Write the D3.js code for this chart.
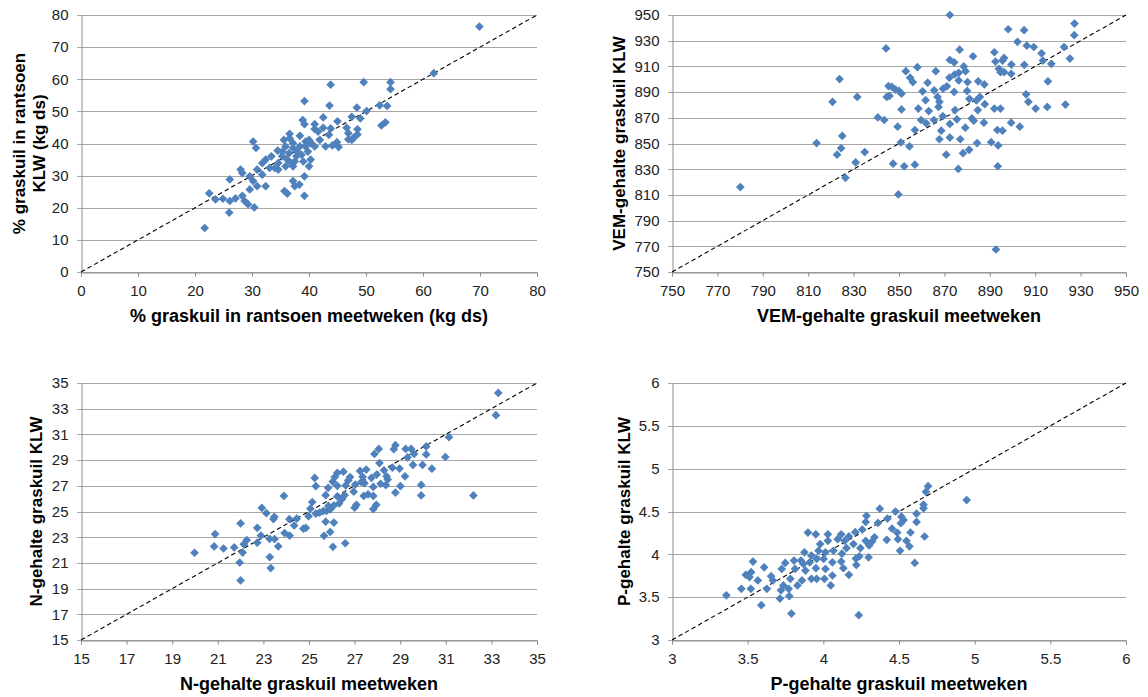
<!DOCTYPE html>
<html>
<head>
<meta charset="utf-8">
<script src="https://cdn.jsdelivr.net/npm/d3@7"></script>
<style>
  body { margin: 0; background: #fff; }
  text { font-family: "Liberation Sans", Arial, sans-serif; }
</style>
</head>
<body>
<svg id="chart" width="1148" height="697"></svg>
<script>
// % graskuil in rantsoen (meetweken vs KLW)
const pctMeet = [69.9,61.9,49.6,54.3,54.3,43.8,39.2,43.6,48.4,52.4,53.7,50.1,49.0,42.5,45.0,47.5,52.7,53.4,38.9,39.2,41.0,41.0,42.5,43.8,46.6,46.9,46.9,48.5,48.5,47.9,47.5,41.6,43.5,38.4,36.6,44.9,42.9,44.1,45.2,41.0,40.0,35.6,30.2,30.7,34.5,35.9,37.2,38.4,39.4,39.8,38.7,37.8,36.5,35.3,36.2,37.5,39.0,40.3,40.0,37.2,35.9,34.6,34.0,32.4,31.8,33.1,30.9,31.8,29.6,30.2,30.9,32.4,29.6,28.0,28.3,26.1,22.5,23.6,24.9,26.1,27.1,28.3,28.7,29.3,30.4,26.0,21.7,39.2,37.2,37.5,38.3,35.7,36.2,39.2,41.9,36.9,37.9,39.4,40.3,35.3,33.4,36.6,37.2,34.6];
const pctKlw  = [76.4,61.9,59.1,59.1,56.9,58.3,53.2,51.8,51.2,51.9,51.7,50.1,47.8,48.1,46.9,48.3,45.6,46.6,47.3,46.0,46.0,44.5,44.9,44.7,44.9,43.2,41.3,44.4,42.8,41.9,41.1,43.7,42.7,42.4,43.0,40.4,39.1,39.4,38.9,39.1,41.1,41.1,40.6,38.6,37.8,39.1,38.6,39.1,39.1,37.5,36.5,36.0,37.0,36.0,35.0,34.4,34.4,35.0,32.9,32.9,32.9,33.9,32.4,35.0,33.9,32.4,31.9,30.3,29.8,28.3,26.7,26.7,25.7,31.9,30.8,28.8,24.5,22.6,22.8,22.1,22.9,23.7,22.1,21.1,20.1,18.5,13.7,29.8,28.3,26.7,27.2,25.2,24.4,23.7,41.1,33.9,37.5,40.6,40.1,37.5,36.0,41.6,40.1,31.9];

// VEM-gehalte graskuil
const vemMeet = [872.4,898.1,905.1,927.3,927.2,902.2,906.3,909.4,922.7,844.3,876.7,892.0,912.8,882.6,896.3,925.3,872.4,874.3,892.5,895.6,913.4,917.1,899.5,905.2,878.5,858.1,853.0,866.2,879.3,894.0,894.7,896.3,899.4,876.3,874.5,872.2,854.9,856.1,862.6,876.3,880.2,884.9,887.6,915.6,823.8,871.1,869.4,845.4,846.9,848.5,850.0,851.1,860.4,865.5,874.3,880.0,906.0,820.7,831.6,844.6,845.8,861.7,867.0,867.8,881.0,884.1,885.6,907.0,915.3,923.3,910.2,892.0,894.7,851.1,858.5,863.1,867.4,874.7,884.7,887.8,840.7,843.5,859.7,865.4,869.3,875.5,882.1,882.9,849.4,862.0,872.4,887.4,899.4,903.2,879.2,857.0,868.6,893.3,895.6,825.0,813.7,867.8,872.4,877.0,884.4,890.6,893.7,850.8,854.6,824.5,834.9,822.7,870.8,878.2,880.9,830.9,847.4,852.3,857.0,876.1,893.5,826.4,849.7,780.1,892.7];
const vemKlw  = [950.0,938.9,938.2,943.3,934.3,929.1,926.1,925.1,925.1,924.0,923.0,921.0,920.2,917.9,916.6,916.1,915.0,913.2,913.8,914.5,914.5,912.0,911.4,911.2,910.0,909.4,906.3,906.3,906.3,908.1,905.5,905.5,904.2,905.0,903.7,901.2,901.2,897.8,897.3,899.1,897.8,898.4,896.0,898.4,900.1,894.5,892.7,894.7,894.0,891.9,890.9,888.8,890.6,891.4,890.1,890.9,888.3,882.4,886.2,886.2,887.0,883.7,886.2,882.4,884.8,883.5,886.2,882.4,878.5,880.3,877.2,877.2,877.2,876.5,877.2,875.2,878.5,876.0,876.0,880.6,870.3,868.3,868.3,868.3,871.3,868.8,869.5,867.7,863.1,865.7,865.2,866.2,866.2,863.1,862.3,860.5,860.0,860.5,860.0,855.9,850.3,853.3,854.6,853.3,850.3,851.0,848.5,850.8,847.7,846.4,843.3,841.3,841.3,842.5,845.1,835.3,834.3,832.3,833.5,830.2,832.3,823.3,810.4,816.1,767.5];

// N-gehalte graskuil
const nMeet = [33.30,33.20,31.14,30.98,32.21,30.39,30.14,30.14,29.98,29.92,29.92,29.48,29.61,29.56,29.24,29.32,29.21,29.01,28.97,28.79,28.79,28.72,28.66,28.06,27.87,28.09,28.29,28.40,28.45,28.14,28.37,27.97,27.74,27.82,27.82,27.95,27.82,27.59,27.51,27.35,27.24,27.30,27.43,27.40,27.03,26.96,27.08,27.00,26.80,26.72,26.61,26.56,26.45,26.51,26.24,26.13,26.04,26.24,26.24,26.32,26.09,25.93,25.77,25.62,25.46,25.30,25.14,25.06,24.98,25.25,25.30,25.84,25.73,25.85,25.73,25.66,25.93,26.09,26.05,26.59,24.75,24.86,24.46,24.35,24.14,23.90,23.93,24.15,23.48,23.44,22.93,23.13,22.73,22.89,22.73,23.27,23.49,23.65,23.28,23.32,22.27,22.14,22.09,21.96,22.00,22.00,21.72,21.25,20.88,20.84,19.98];
const nKlw  = [34.23,32.50,30.78,29.24,26.25,28.33,30.06,29.44,28.62,27.07,26.25,29.87,29.48,28.62,29.87,29.21,27.74,26.97,28.34,26.47,30.16,29.85,28.41,29.87,29.48,28.77,28.21,27.74,27.49,27.16,27.06,27.87,27.62,26.91,26.21,25.52,25.19,26.34,28.26,27.70,28.16,27.30,27.20,26.21,27.10,26.54,25.52,25.30,27.68,27.42,27.03,26.27,25.98,28.10,28.00,27.68,27.33,27.00,26.17,25.63,25.47,25.16,25.05,25.03,24.91,24.84,25.73,25.22,24.64,27.61,26.97,26.84,26.27,25.43,24.21,23.11,23.41,24.14,22.25,22.53,23.66,23.72,24.44,23.91,24.40,26.21,23.32,23.13,24.59,24.41,25.28,24.87,23.73,23.13,22.57,22.87,22.86,22.29,21.45,20.60,22.78,22.46,21.80,21.03,19.64,24.07,22.20,22.12,23.24,22.28,21.79];

// P-gehalte graskuil
const pMeet = [4.692,4.678,4.662,4.662,4.947,4.616,4.616,4.576,4.669,4.604,4.569,4.549,4.516,4.530,4.512,4.507,4.493,4.477,4.488,4.454,4.419,4.424,4.373,4.361,4.338,4.322,4.303,4.280,4.285,4.280,4.299,4.257,4.245,4.238,4.234,4.211,4.215,4.218,4.199,4.169,4.169,4.141,4.153,4.118,4.123,4.118,4.132,4.095,4.067,4.060,4.060,4.049,4.030,4.030,4.014,4.002,4.014,4.007,3.979,3.968,3.956,3.951,3.956,3.950,3.898,3.921,3.910,3.921,3.875,3.868,3.882,3.859,3.852,3.829,3.806,3.813,3.789,3.782,3.771,3.775,3.748,3.725,3.736,3.713,3.720,3.667,3.655,3.627,3.609,3.590,3.567,3.535,3.523,3.512,3.521,3.488,3.458,3.359];
const pKlw  = [4.795,4.730,4.579,4.537,4.634,4.475,4.378,4.255,4.208,3.900,4.093,4.158,4.440,4.400,4.363,4.042,4.177,4.500,4.254,4.300,4.170,4.417,4.533,4.367,4.199,4.150,4.103,4.158,4.450,4.378,3.965,4.290,4.073,3.977,3.290,4.258,3.951,3.876,4.120,4.209,3.761,4.158,4.073,4.234,4.008,3.916,3.839,4.177,4.042,3.907,3.753,3.637,4.158,4.234,4.023,3.946,3.830,3.714,4.120,4.042,3.946,3.838,3.714,4.234,4.254,3.985,3.907,3.714,4.023,3.888,3.811,3.695,3.927,3.637,3.927,3.830,3.309,3.714,3.598,3.513,3.900,3.830,3.637,3.483,3.580,3.695,3.745,3.598,3.849,3.406,3.695,3.916,3.792,3.734,3.598,3.761,3.598,3.521];

// as-bereiken en ticks
const pctTicks = [0,10,20,30,40,50,60,70,80];
const vemTicks = [750,770,790,810,830,850,870,890,910,930,950];
const nTicks = [15,17,19,21,23,25,27,29,31,33,35];
const pTicks = [3,3.5,4,4.5,5,5.5,6];

const svg = d3.select("#chart");

const panels = [
  { xs: pctMeet, ys: pctKlw, ticks: pctTicks, left: 81, right: 537, top: 15, bottom: 272,
    xTitle: "% graskuil in rantsoen meetweken (kg ds)",
    yTitle: ["% graskuil in rantsoen", "KLW (kg ds)"], yTitleX: [19, 39] },
  { xs: vemMeet, ys: vemKlw, ticks: vemTicks, left: 672, right: 1126, top: 15, bottom: 272,
    xTitle: "VEM-gehalte graskuil meetweken",
    yTitle: ["VEM-gehalte graskuil KLW"], yTitleX: [619] },
  { xs: nMeet, ys: nKlw, ticks: nTicks, left: 81, right: 537, top: 383, bottom: 640,
    xTitle: "N-gehalte graskuil meetweken",
    yTitle: ["N-gehalte graskuil KLW"], yTitleX: [36] },
  { xs: pMeet, ys: pKlw, ticks: pTicks, left: 672, right: 1126, top: 383, bottom: 640,
    xTitle: "P-gehalte graskuil meetweken",
    yTitle: ["P-gehalte graskuil KLW"], yTitleX: [624] }
];

const diamond = d3.symbol(d3.symbolSquare, 38);

panels.forEach(p => {
  const dom = [p.ticks[0], p.ticks[p.ticks.length - 1]];
  const x = d3.scaleLinear().domain(dom).range([p.left, p.right]);
  const y = d3.scaleLinear().domain(dom).range([p.bottom, p.top]);
  const g = svg.append("g");

  // horizontale rasterlijnen (steken 4px links uit)
  g.selectAll(".grid")
    .data(p.ticks)
    .join("line")
    .attr("x1", p.left - 4).attr("x2", p.right)
    .attr("y1", d => Math.round(y(d)) + 0.5).attr("y2", d => Math.round(y(d)) + 0.5)
    .attr("stroke", "#a6a6a6")
    .attr("stroke-width", 1);

  // y-as
  const yAxis = g.append("g")
    .attr("transform", `translate(${p.left + 0.5},0)`)
    .call(d3.axisLeft(y).tickValues(p.ticks).tickSize(0).tickPadding(13).tickFormat(d3.format("")));
  yAxis.select(".domain").attr("stroke", "#8c8c8c");

  // x-as
  const xAxis = g.append("g")
    .attr("transform", `translate(0,${Math.round(p.bottom) + 0.5})`)
    .call(d3.axisBottom(x).tickValues(p.ticks).tickSize(4).tickSizeOuter(4).tickPadding(9).tickFormat(d3.format("")));
  xAxis.select(".domain").attr("stroke", "#8c8c8c");
  xAxis.selectAll(".tick line").attr("stroke", "#8c8c8c");

  g.selectAll(".tick text")
    .style("font-family", "'Liberation Sans', Arial, sans-serif")
    .style("font-size", "15px")
    .attr("fill", "#222");

  // 1:1 lijn
  g.append("line")
    .attr("x1", x(dom[0])).attr("y1", y(dom[0]))
    .attr("x2", x(dom[1])).attr("y2", y(dom[1]))
    .attr("stroke", "#000")
    .attr("stroke-width", 1.1)
    .attr("stroke-dasharray", "4.5,3");

  // punten
  g.selectAll(".pt")
    .data(p.xs.map((v, i) => [v, p.ys[i]]))
    .join("path")
    .attr("d", diamond)
    .attr("transform", d => `translate(${x(d[0])},${y(d[1])}) rotate(45)`)
    .attr("fill", "#4f81bd");

  // as-titels
  g.append("text")
    .attr("x", (p.left + p.right) / 2)
    .attr("y", p.bottom + 50)
    .attr("text-anchor", "middle")
    .style("font-size", "18px")
    .style("font-weight", "bold")
    .text(p.xTitle);

  p.yTitle.forEach((t, i) => {
    g.append("text")
      .attr("transform", `translate(${p.yTitleX[i]},${(p.top + p.bottom) / 2}) rotate(-90)`)
      .attr("text-anchor", "middle")
      .attr("dy", "0.35em")
      .style("font-size", "17px")
      .style("font-weight", "bold")
      .text(t);
  });
});
</script>
</body>
</html>
